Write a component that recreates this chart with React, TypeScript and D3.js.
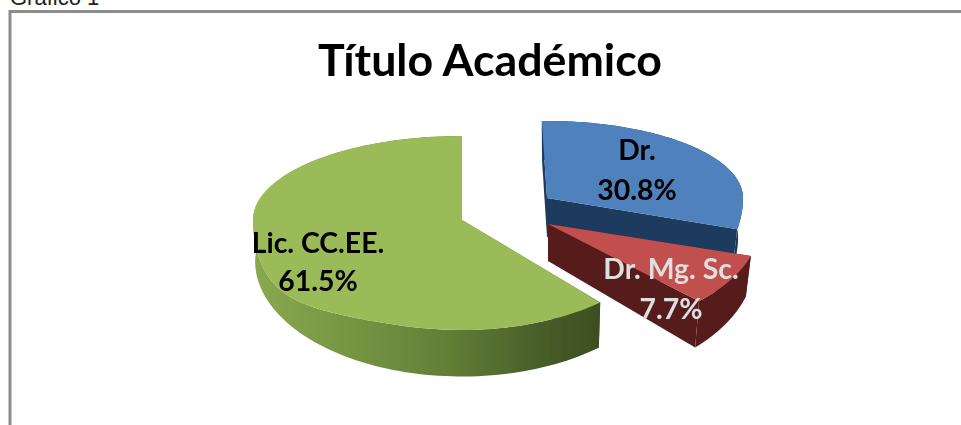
import React from "react";
import * as d3 from "d3";

const categories = ["Dr.", "Dr. Mg. Sc.", "Lic. CC.EE."];
const percents = [30.8, 7.7, 61.5];
const percentLabels = ["30.8%", "7.7%", "61.5%"];
const titleText = "Título Académico";
const captionText = "Gráfico 1";

const topColors = ["#4f81bd", "#c0504d", "#9bbb59"];
const wallColors = ["#1f3a5f", "#571f1f", "url(#greenWall)"];
const labelColors = ["#000000", "#dedede", "#000000"];
// one exploded, perspective-foreshortened placement per slice
const placement = [
  { cx: 547, cy: 198, rx: 196, ryUp: 77, ryDown: 130, rot: -1.5, spread: 0.951, depth: 39, shrink: 0.975, grow: 1.0, bulge: 0 },
  { cx: 548, cy: 224, rx: 212, ryUp: 80, ryDown: 110, rot: -4, spread: 1, depth: 37, shrink: 0.975, grow: 1.12, bulge: 0 },
  { cx: 462, cy: 220, rx: 209, ryUp: 84, ryDown: 110, rot: 0, spread: 1, depth: 41, shrink: 0.99, grow: 1.05, bulge: 55 },
];
const labelPos = [
  { x: 637, y1: 160, y2: 200 },
  { x: 671, y1: 279, y2: 319 },
  { x: 318, y1: 253, y2: 291 },
];

const pieGen = d3.pie<number>().sort(null).startAngle(0).endAngle(2 * Math.PI);
const arcs = pieGen(percents);
const line = d3.line<[number, number]>();

type Place = typeof placement[number];
const turned = (p: Place, a: number) => (p.rot * Math.PI) / 180 + a * p.spread;

function topPt(p: Place, a: number): [number, number] {
  const t = turned(p, a);
  const c = Math.cos(t);
  const s = Math.sin(t);
  const ry = c > 0 ? p.ryUp : p.ryDown + (s < 0 ? p.bulge * s ** 4 : 0);
  return [p.cx + p.rx * s, p.cy - ry * c];
}
function botPt(p: Place, a: number): [number, number] {
  const t = turned(p, a);
  const c = Math.cos(t);
  return [
    p.cx + p.rx * p.shrink * Math.sin(t),
    p.cy + p.depth - (c > 0 ? p.ryUp : p.ryDown * p.grow) * c,
  ];
}
const samples = (a0: number, a1: number) => d3.range(0, 121).map((i) => a0 + ((a1 - a0) * i) / 120);

export default function App() {
  return (
    <svg
      width={961}
      height={425}
      viewBox="0 0 961 425"
      style={{ position: "absolute", left: 0, top: 0, display: "block", background: "#fff" }}
    >
      <defs>
        <linearGradient id="greenWall" gradientUnits="userSpaceOnUse" x1={253} x2={603} y1={0} y2={0}>
          <stop offset="0" stopColor="#8aa84e" />
          <stop offset="0.2" stopColor="#7c9b46" />
          <stop offset="0.55" stopColor="#637f37" />
          <stop offset="0.85" stopColor="#465a27" />
          <stop offset="1" stopColor="#3d4e21" />
        </linearGradient>
        <filter id="soft" x="-5%" y="-5%" width="110%" height="110%">
          <feGaussianBlur stdDeviation={0.6} />
        </filter>
      </defs>
      <text x={10} y={5} fontFamily="Liberation Sans" fontSize={22} fill="#222">{captionText}</text>
      <path d="M10 440V11.5H961" fill="none" stroke="#8c8c8c" strokeWidth={3} />
      <g filter="url(#soft)">
        <text x={490} y={76} textAnchor="middle" fontFamily="Lato" fontWeight={700} fontSize={44.7} fill="#000">{titleText}</text>
        {arcs.map((d, i) => {
          const p = placement[i];
          const outerTop = samples(d.startAngle, d.endAngle).map((a) => topPt(p, a));
          const outerBot = samples(d.startAngle, d.endAngle).map((a) => botPt(p, a));
          const apex: [number, number] = [p.cx, p.cy];
          const apexB: [number, number] = [p.cx, p.cy + p.depth];
          const startFace = [apex, topPt(p, d.startAngle), botPt(p, d.startAngle), apexB];
          const endFace = [apex, topPt(p, d.endAngle), botPt(p, d.endAngle), apexB];
          const outerFace = [...outerTop, ...outerBot.slice().reverse()];
          const topFace = [apex, ...outerTop];
          return (
            <g key={categories[i]}>
              <path d={line(startFace as [number, number][]) + "Z"} fill={wallColors[i]} />
              <path d={line(endFace as [number, number][]) + "Z"} fill={wallColors[i]} />
              <path d={line(outerFace) + "Z"} fill={wallColors[i]} />
              <path d={line(topFace as [number, number][]) + "Z"} fill={topColors[i]} />
            </g>
          );
        })}
        {categories.map((c, i) => (
          <g key={c} textAnchor="middle" fontFamily="Lato" fontWeight={700} fontSize={28.4} fill={labelColors[i]}>
            <text x={labelPos[i].x} y={labelPos[i].y1}>{c}</text>
            <text x={labelPos[i].x} y={labelPos[i].y2}>{percentLabels[i]}</text>
          </g>
        ))}
      </g>
    </svg>
  );
}
